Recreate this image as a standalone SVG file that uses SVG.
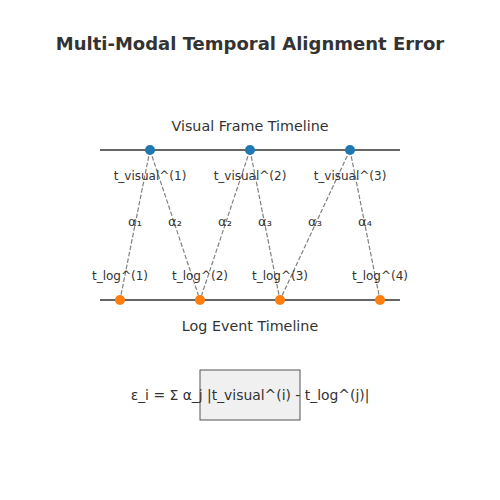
<svg xmlns="http://www.w3.org/2000/svg" width="500" height="500" viewBox="0 0 500 500">
<style>
text{font-family:"DejaVu Sans",sans-serif;fill:#333}
.t{font-size:18px;font-weight:bold}
.h{font-size:14.3px}
.e{font-size:13.9px}
.l{font-size:12px}
.a{font-size:13px}
.axis{stroke:#333;stroke-width:1.5}
.c{stroke:#808080;stroke-width:1.2;stroke-dasharray:4.5,2;fill:none}
.v{fill:#1f77b4}
.g{fill:#ff7f0e}
</style>
<rect width="500" height="500" fill="#fff"/>
<text class="t" x="250" y="50" text-anchor="middle">Multi-Modal Temporal Alignment Error</text>
<text class="h" x="250" y="131" text-anchor="middle">Visual Frame Timeline</text>
<text class="h" x="250" y="331" text-anchor="middle">Log Event Timeline</text>
<line class="axis" x1="100" y1="150" x2="400" y2="150"/>
<line class="axis" x1="100" y1="300" x2="400" y2="300"/>
<g id="connectors">
<line class="c" x1="150" y1="150" x2="120" y2="300"/>
<line class="c" x1="150" y1="150" x2="200" y2="300"/>
<line class="c" x1="250" y1="150" x2="200" y2="300"/>
<line class="c" x1="250" y1="150" x2="280" y2="300"/>
<line class="c" x1="350" y1="150" x2="280" y2="300"/>
<line class="c" x1="350" y1="150" x2="380" y2="300"/>
<text class="a" x="135" y="226" text-anchor="middle">α₁</text>
<text class="a" x="175" y="226" text-anchor="middle">α₂</text>
<text class="a" x="225" y="226" text-anchor="middle">α₂</text>
<text class="a" x="265" y="226" text-anchor="middle">α₃</text>
<text class="a" x="315" y="226" text-anchor="middle">α₃</text>
<text class="a" x="365" y="226" text-anchor="middle">α₄</text>
</g>
<g id="v1"><circle class="v" cx="150" cy="150" r="5"/><text class="l" x="150" y="180" text-anchor="middle">t_visual^(1)</text></g>
<g id="v2"><circle class="v" cx="250" cy="150" r="5"/><text class="l" x="250" y="180" text-anchor="middle">t_visual^(2)</text></g>
<g id="v3"><circle class="v" cx="350" cy="150" r="5"/><text class="l" x="350" y="180" text-anchor="middle">t_visual^(3)</text></g>
<g id="l1"><circle class="g" cx="120" cy="300" r="5"/><text class="l" x="120" y="280" text-anchor="middle">t_log^(1)</text></g>
<g id="l2"><circle class="g" cx="200" cy="300" r="5"/><text class="l" x="200" y="280" text-anchor="middle">t_log^(2)</text></g>
<g id="l3"><circle class="g" cx="280" cy="300" r="5"/><text class="l" x="280" y="280" text-anchor="middle">t_log^(3)</text></g>
<g id="l4"><circle class="g" cx="380" cy="300" r="5"/><text class="l" x="380" y="280" text-anchor="middle">t_log^(4)</text></g>
<g id="formula">
<rect x="200" y="370" width="100" height="50" fill="#f0f0f0" stroke="#555" stroke-width="1"/>
<text class="e" x="250" y="400" text-anchor="middle">ε_i = Σ α_j |t_visual^(i) - t_log^(j)|</text>
</g>
</svg>
